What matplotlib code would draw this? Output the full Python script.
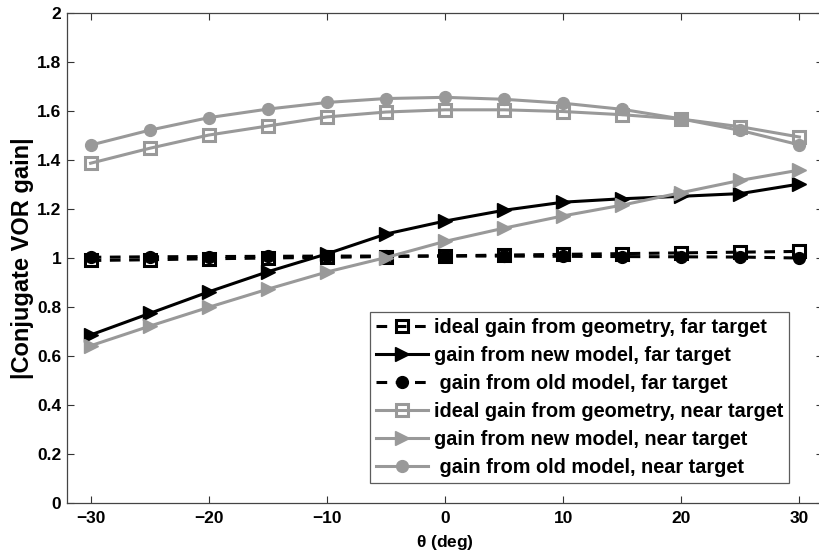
import numpy as np
import matplotlib.pyplot as plt
from matplotlib.ticker import FormatStrFormatter

# Угол поворота головы, град.
theta = [-30, -25, -20, -15, -10, -5, 0, 5, 10, 15, 20, 25, 30]

# Дальняя цель
ideal_far = [0.99, 0.993, 0.997, 1.0, 1.003, 1.006, 1.009, 1.012, 1.015, 1.018, 1.021, 1.024, 1.027]
new_far = [0.686, 0.774, 0.862, 0.944, 1.017, 1.098, 1.151, 1.195, 1.228, 1.242, 1.252, 1.263, 1.302]
old_far = [1.003, 1.005, 1.006, 1.007, 1.008, 1.008, 1.008, 1.008, 1.007, 1.006, 1.005, 1.004, 1.0]

# Ближняя цель
ideal_near = [1.387, 1.448, 1.502, 1.539, 1.576, 1.596, 1.605, 1.605, 1.598, 1.585, 1.567, 1.536, 1.494]
new_near = [0.642, 0.722, 0.799, 0.873, 0.943, 1.002, 1.068, 1.122, 1.172, 1.216, 1.267, 1.317, 1.359]
old_near = [1.461, 1.522, 1.573, 1.608, 1.635, 1.651, 1.656, 1.648, 1.632, 1.607, 1.568, 1.521, 1.462]

labels = ['ideal gain from geometry, far target',
          'gain from new model, far target',
          ' gain from old model, far target',
          'ideal gain from geometry, near target',
          'gain from new model, near target',
          ' gain from old model, near target']

plt.rcParams['font.family'] = ['Liberation Sans', 'DejaVu Sans']
plt.rcParams['font.weight'] = 'bold'
plt.rcParams['axes.labelweight'] = 'bold'

gray = '#999999'
lw = 2.2

fig = plt.figure(figsize=(8.2, 5.53), dpi=100)
ax = fig.add_axes([0.0817, 0.0904, 0.922, 0.886])

ax.plot(theta, ideal_far, color='k', lw=lw, dashes=(3.5, 2.8), marker='s', ms=8.5,
        mfc='none', mec='k', mew=2.2, label=labels[0])
ax.plot(theta, new_far, color='k', lw=lw, marker='>', ms=10.5,
        mfc='k', mec='k', label=labels[1])
ax.plot(theta, old_far, color='k', lw=lw, dashes=(3.5, 2.8), marker='o', ms=8.5,
        mfc='k', mec='k', label=labels[2])
ax.plot(theta, ideal_near, color=gray, lw=lw, marker='s', ms=8.5,
        mfc='none', mec=gray, mew=2.2, label=labels[3])
ax.plot(theta, new_near, color=gray, lw=lw, marker='>', ms=10.5,
        mfc=gray, mec=gray, label=labels[4])
ax.plot(theta, old_near, color=gray, lw=lw, marker='o', ms=8.5,
        mfc=gray, mec=gray, label=labels[5])

ax.set_xlim(-32, 32)
ax.set_ylim(0, 2)
ax.set_xticks([-30, -20, -10, 0, 10, 20, 30])
ax.set_yticks(np.arange(0, 2.01, 0.2))
ax.yaxis.set_major_formatter(FormatStrFormatter('%g'))
ax.tick_params(direction='in', length=5, width=0.8, top=True, right=True,
               labelsize=12.5, colors='#333333', labelcolor='k')
ax.tick_params(axis='x', pad=6)
ax.tick_params(axis='y', pad=4)
for sp in ax.spines.values():
    sp.set_color('#444444')
    sp.set_linewidth(0.9)

ax.set_xlabel(r'$\mathregular{\theta}$ (deg)', fontsize=12.5, labelpad=5)
ax.set_ylabel('|Conjugate VOR gain|', fontsize=17, labelpad=2)

leg = ax.legend(loc='lower left', bbox_to_anchor=(0.401, 0.041), fontsize=14.3,
                frameon=True, fancybox=False, edgecolor='#333333',
                handlelength=2.6, handletextpad=0.3, labelspacing=0.45,
                borderpad=0.3, borderaxespad=0)
leg.get_frame().set_linewidth(0.9)

fig.savefig('out.png', dpi=100)
